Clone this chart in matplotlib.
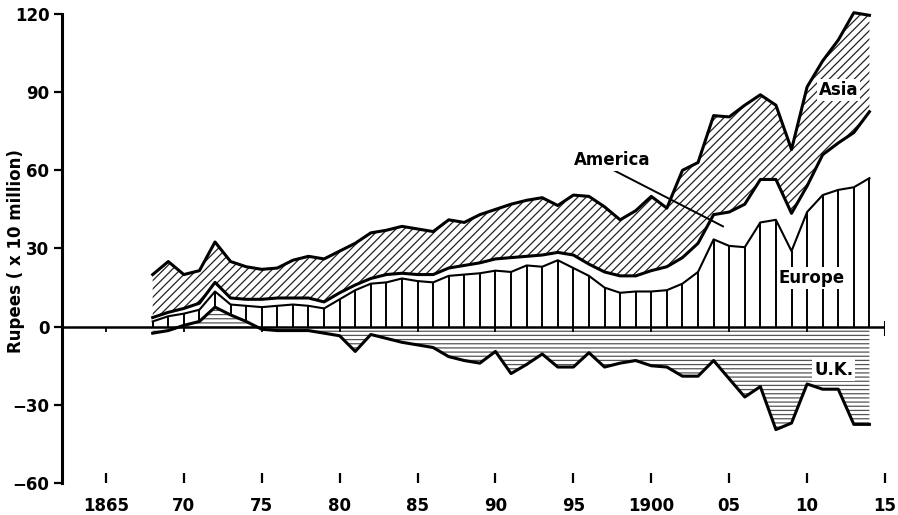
import matplotlib
matplotlib.use("Agg")
import matplotlib.pyplot as plt
import numpy as np

# ---------------- data (Rupees, x 10 million) ----------------
years = list(range(1868, 1915))

uk = [-2.5, -1.5, 0.5, 2, 7.5, 4.5, 2, -1, -1.5, -1.5,
      -1.5, -2.5, -3.5, -9.5, -3, -4.5, -6, -7, -8, -11.5,
      -13, -14, -9.5, -18, -14.5, -10.5, -15.5, -15.5, -10, -15.5,
      -14, -13, -15, -15.5, -19, -19, -13, -20, -27, -23,
      -39.5, -37, -22, -24, -24, -37.5, -37.5]

europe = [2, 4, 4.5, 4.5, 6, 4, 6, 7.5, 8, 8.5,
          8, 7, 10.5, 14, 16.5, 17, 18.5, 17.5, 17, 19.5,
          20, 20.5, 21.5, 21, 23.5, 23, 25.5, 22.5, 19.5, 15,
          13, 13.5, 13.5, 14, 16.5, 21, 33.5, 31, 30.5, 40,
          41, 29, 44, 50.5, 52.5, 53.5, 57]

america = [1.5, 1.5, 2, 2.5, 3.5, 2.5, 2.5, 3, 3, 2.5,
           3, 2.5, 2.5, 2, 2, 3, 2, 2.5, 3, 3,
           3.5, 4, 4.5, 5.5, 3.5, 4.5, 3, 5, 4.5, 6,
           6.5, 6, 8, 9, 10, 11, 9.5, 13, 16.5, 16.5,
           15.5, 14.5, 10, 15.5, 18, 21, 25.5]

asia = [16.5, 19.5, 13, 12.5, 15.5, 14, 12.5, 11.5, 11.5, 14.5,
        16, 16.5, 16, 16, 17.5, 17, 18, 17.5, 16.5, 18.5,
        16.5, 18.5, 19, 20.5, 21.5, 22, 18, 23, 26, 25,
        21.5, 25, 28.5, 22.5, 33.5, 31, 38, 36.5, 38, 32.5,
        28.5, 24.5, 38, 36, 39.5, 46, 37]

xtick_years = [1865, 1870, 1875, 1880, 1885, 1890, 1895, 1900, 1905, 1910, 1915]
xtick_labels = ["1865", "70", "75", "80", "85", "90", "95", "1900", "05", "10", "15"]
ytick_values = [-60, -30, 0, 30, 60, 90, 120]
ytick_labels = ["\u221260", "\u221230", "0", "30", "60", "90", "120"]

region_labels = ["Asia", "America", "Europe", "U.K."]
label_pos = [(1912.0, 91), (1897.5, 64), (1910.3, 18.8), (1911.7, -16.5)]
pointer = ([1897.6, 1904.6], [60.0, 38.5])

# ---------------- figure ----------------
plt.rcParams['font.family'] = ['DejaVu Sans']
plt.rcParams['hatch.linewidth'] = 0.9

W, H = 898, 515
fig = plt.figure(figsize=(W / 100, H / 100), dpi=100)
ax = fig.add_axes([62 / W, 1 - 483 / H, (885 - 62) / W, (483 - 14) / H])

yr = np.array(years, dtype=float)
uk_a = np.array(uk, dtype=float)
base = np.maximum(uk_a, 0)
eu_top = base + np.array(europe)
am_top = eu_top + np.array(america)
as_top = am_top + np.array(asia)

# U.K. (horizontal dashes)
ax.fill_between(yr, 0, uk_a, facecolor='white', edgecolor='#555555',
                hatch='----', linewidth=0)
# Europe (vertical lines)
ax.fill_between(yr, base, eu_top, facecolor='white', linewidth=0)
ax.vlines(yr, base, eu_top, color='black', lw=1.4)
# America (white band)
ax.fill_between(yr, eu_top, am_top, facecolor='white', linewidth=0)
# Asia (diagonal hatch)
ax.fill_between(yr, am_top, as_top, facecolor='white', edgecolor='#222222',
                hatch='////', linewidth=0, clip_on=False)

# outlines
ax.plot(yr, as_top, color='black', lw=2.2, clip_on=False)
ax.plot(yr, am_top, color='black', lw=2.2)
ax.plot(yr, eu_top, color='black', lw=1.5)
ax.plot(yr, uk_a, color='black', lw=2.2)

# zero line and its small marks
ax.axhline(0, color='black', lw=1.8)
ax.vlines(xtick_years[:-1], -2.2, 0, color='black', lw=1.3)
ax.vlines([xtick_years[-1]], -3.5, 2, color='black', lw=1.5)

# labels
for name, (lx, ly) in zip(region_labels, label_pos):
    ax.text(lx, ly, name, ha='center', va='center', fontsize=12, fontweight='bold',
            bbox=dict(facecolor='white', edgecolor='none', pad=1.5))
ax.plot(pointer[0], pointer[1], color='black', lw=1.4)

# axes
ax.set_xlim(1862.18, 1915)
ax.set_ylim(-60, 120)
for s in ['top', 'right', 'bottom']:
    ax.spines[s].set_visible(False)
ax.spines['left'].set_linewidth(2.2)

ax.set_xticks(xtick_years)
ax.set_xticklabels(xtick_labels, fontweight='bold')
ax.set_yticks(ytick_values)
ax.set_yticklabels(ytick_labels, fontweight='bold')
ax.tick_params(axis='x', direction='in', length=7, width=1.6, pad=10, labelsize=12)
ax.tick_params(axis='y', direction='out', length=6, width=1.6, pad=3, labelsize=12)
ax.set_ylabel("Rupees ( x 10 million)", fontsize=12, fontweight='bold')
ax.yaxis.set_label_coords(-0.045, 0.495)

fig.savefig("out.png", dpi=100)
